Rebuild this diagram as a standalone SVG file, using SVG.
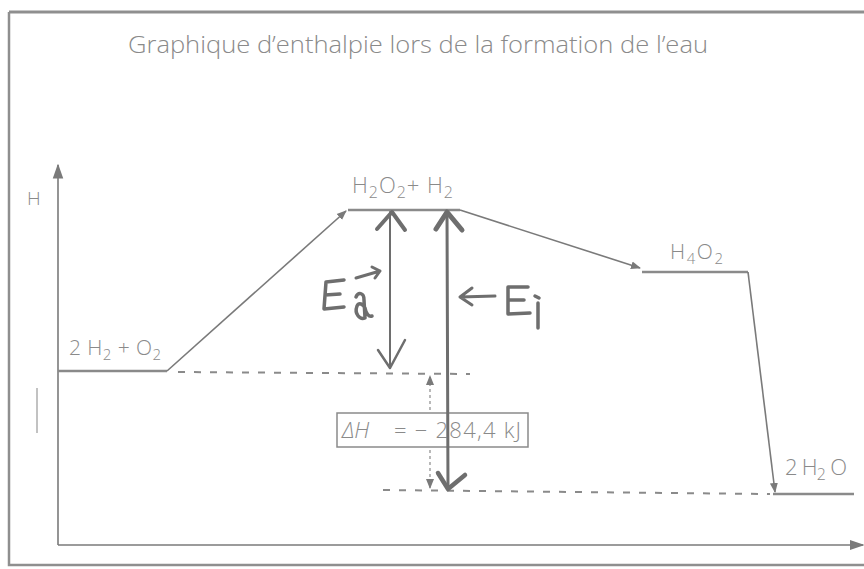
<svg xmlns="http://www.w3.org/2000/svg" width="864" height="569" viewBox="0 0 864 569">
<defs>
<style>
.t{font-family:"Open Sans","Liberation Sans",sans-serif;font-weight:300;fill:#8a8a8a}
.lvl{stroke:#8a8a8a;stroke-width:2.5;fill:none}
.ln{stroke:#7a7a7a;stroke-width:1.6;fill:none}
.dash{stroke:#8a8a8a;stroke-width:2;stroke-dasharray:7,9;fill:none}
.hand{stroke:#6e6e6e;fill:none;stroke-linecap:round;stroke-linejoin:round}
</style>
<marker id="ah" viewBox="0 0 10 10" refX="9" refY="5" markerWidth="10" markerHeight="10" markerUnits="userSpaceOnUse" orient="auto">
<path d="M0,1 L10,5 L0,9 Z" fill="#7a7a7a"/>
</marker>
<marker id="ahs" viewBox="0 0 10 10" refX="9" refY="5" markerWidth="15" markerHeight="15" markerUnits="userSpaceOnUse" orient="auto">
<path d="M0,1.5 L10,5 L0,8.5 Z" fill="#7a7a7a"/>
</marker>
</defs>
<rect width="864" height="569" fill="#fff"/>
<g id="frame">
<path d="M9,12 L864,12" stroke="#8f8f8f" stroke-width="3"/>
<path d="M9,12 L9,565 L864,565" stroke="#8f8f8f" stroke-width="2.5" fill="none"/>
<line x1="37" y1="388" x2="37" y2="433" stroke="#999" stroke-width="1.2"/>
</g>
<text class="t" x="128" y="53" font-size="23" textLength="580" lengthAdjust="spacingAndGlyphs">Graphique d’enthalpie lors de la formation de l’eau</text>
<g id="axes">
<line x1="58" y1="545" x2="58" y2="165" class="ln" marker-end="url(#ahs)"/>
<line x1="58" y1="545" x2="863" y2="545" class="ln" marker-end="url(#ahs)"/>
<text class="t" x="27" y="205" font-size="19">H</text>
</g>
<g id="node-reactants">
<line x1="58" y1="371" x2="167" y2="371" class="lvl"/>
<text class="t" x="69" y="355" font-size="21" textLength="92">2 H<tspan font-size="15" dy="5">2</tspan><tspan dy="-5"> + O</tspan><tspan font-size="15" dy="5">2</tspan></text>
</g>
<g id="node-h2o2">
<line x1="348" y1="210" x2="460" y2="210" class="lvl"/>
<text class="t" x="352" y="193" font-size="22" textLength="101">H<tspan font-size="16" dy="5">2</tspan><tspan dy="-5">O</tspan><tspan font-size="16" dy="5">2</tspan><tspan dy="-5">+ H</tspan><tspan font-size="16" dy="5">2</tspan></text>
</g>
<g id="node-h4o2">
<line x1="642" y1="272" x2="748" y2="272" class="lvl"/>
<text class="t" x="670" y="259" font-size="21" textLength="53">H<tspan font-size="15" dy="5">4</tspan><tspan dy="-5">O</tspan><tspan font-size="15" dy="5">2</tspan></text>
</g>
<g id="node-water">
<line x1="773" y1="494" x2="854" y2="494" class="lvl"/>
<text class="t" x="785" y="475" font-size="22" textLength="62">2 H<tspan font-size="16" dy="5">2</tspan><tspan dy="-5"> O</tspan></text>
</g>
<g id="node-dh">
<rect x="337" y="413" width="191" height="34" fill="#fff" stroke="#8a8a8a" stroke-width="1.5"/>
<text class="t" x="342" y="438" font-size="22" font-style="italic">ΔH</text>
<text class="t" x="394" y="438" font-size="22" textLength="127">=  − 284,4 kJ</text>
</g>
<g id="connectors">
<line x1="167" y1="371" x2="346" y2="211" class="ln" marker-end="url(#ah)"/>
<line x1="460" y1="210" x2="640" y2="268" class="ln" marker-end="url(#ah)"/>
<line x1="748" y1="272" x2="775" y2="492" class="ln" marker-end="url(#ah)"/>
<line x1="178" y1="372" x2="470" y2="374" class="dash"/>
<line x1="383" y1="490" x2="770" y2="494" class="dash"/>
<line x1="430" y1="410" x2="430" y2="376" stroke="#8a8a8a" stroke-width="1.2" stroke-dasharray="3,3" marker-end="url(#ah)"/>
<line x1="430" y1="450" x2="430" y2="488" stroke="#8a8a8a" stroke-width="1.2" stroke-dasharray="3,3" marker-end="url(#ah)"/>
<line x1="390" y1="212" x2="390" y2="368" class="hand" stroke-width="2"/>
<path d="M377,229 L392,212 L405,230" class="hand" stroke-width="4"/>
<path d="M378,350 L390,368 L405,340" class="hand" stroke-width="2.5"/>
<line x1="447" y1="212" x2="448" y2="489" class="hand" stroke-width="3"/>
<path d="M436,229 L447,212 L462,230" class="hand" stroke-width="5"/>
<path d="M438,473 L448,489 L465,475" class="hand" stroke-width="4.5"/>
</g>
<g id="handwriting" class="hand" stroke-width="3.5">
<path d="M344,280 L326,282 L324,309 L344,307 M325,295 L340,294"/>
<path d="M356,297 C358,292 364,292 364,300 L365,318 C360,320 354,314 357,306 C359,302 363,304 365,308 C366,314 369,317 372,316"/>
<path d="M356,278 L380,271 M372,267 L380,271 L375,278" stroke-width="3"/>
<path d="M495,296 L460,297 M472,288 L460,297 L472,305" stroke-width="3"/>
<path d="M528,287 L508,287 L508,314 L530,313 M508,300 L524,300"/>
<path d="M538,303 L538,328 M535,296 L539,298"/>
</g>
</svg>
